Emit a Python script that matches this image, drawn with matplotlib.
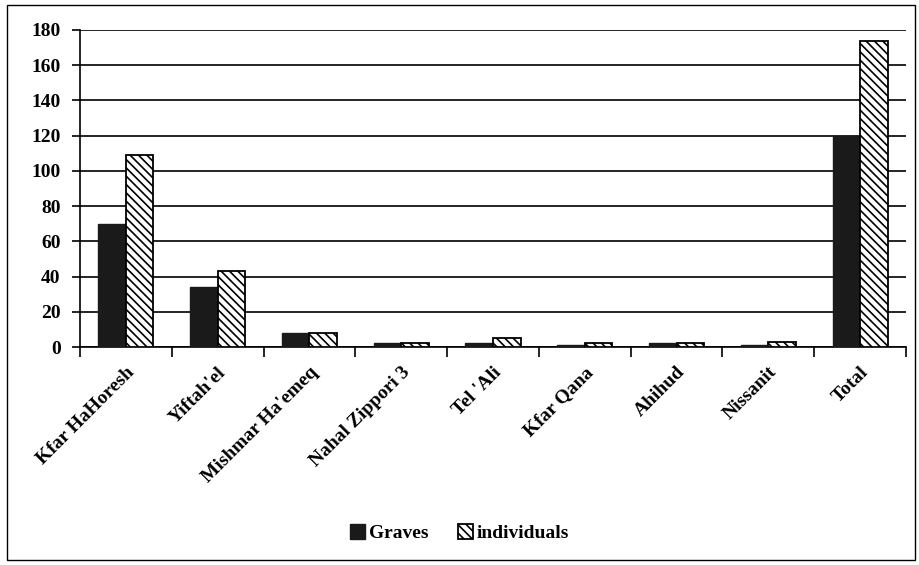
import matplotlib.pyplot as plt
import numpy as np
from matplotlib.patches import Rectangle

plt.rcParams['font.family'] = ['Liberation Serif', 'DejaVu Serif']
plt.rcParams['hatch.linewidth'] = 1.2

sites = ['Kfar HaHoresh', "Yiftah'el", "Mishmar Ha'emeq", 'Nahal Zippori 3',
         "Tel 'Ali", 'Kfar Qana', 'Ahihud', 'Nissanit', 'Total']
graves = [70, 34, 8, 2, 2, 1, 2, 1, 120]
individuals = [109, 43, 8, 2, 5, 2, 2, 3, 174]

fig = plt.figure(figsize=(9.19, 5.65), dpi=100)
ax = fig.add_axes([80 / 919, 1 - 347 / 565, 826 / 919, 317 / 565])

x = np.arange(len(sites))
w = 0.30
ax.bar(x - w / 2, graves, w, color='#1a1a1a', edgecolor='#1a1a1a', lw=1, label='Graves', zorder=3)
ax.bar(x + w / 2, individuals, w, color='white', edgecolor='black', lw=1.3,
       hatch='\\\\\\\\', label='individuals', zorder=3)

ax.set_xlim(-0.5, len(sites) - 0.5)
ax.set_ylim(0, 180)
ax.set_yticks(range(0, 181, 20))
ax.yaxis.grid(True, color='black', lw=1.2)
ax.set_axisbelow(True)
for s in ['top', 'right']:
    ax.spines[s].set_visible(False)
ax.spines['left'].set_linewidth(1.2)
ax.spines['bottom'].set_linewidth(1.2)

ax.set_xticks(x)
ax.set_xticklabels(sites, rotation=45, ha='right', rotation_mode='anchor', fontsize=14)
ax.tick_params(axis='x', length=0, pad=12)
ax.set_xticks(np.arange(-0.5, len(sites)), minor=True)
ax.tick_params(axis='x', which='minor', length=7, width=1.2, direction='out')
ax.tick_params(axis='y', length=6, width=1.2, labelsize=14, pad=8)
for t in ax.get_yticklabels() + ax.get_xticklabels():
    t.set_fontweight('bold')

leg = fig.legend(loc='center', bbox_to_anchor=(0.5, 1 - 533 / 565), ncol=2, frameon=False,
                 handlelength=0.8, handleheight=0.8, handletextpad=0.2,
                 columnspacing=1.5, prop={'weight': 'bold', 'size': 14})

fig.patches.append(Rectangle((7 / 919, 5 / 565), 908 / 919, 555 / 565, transform=fig.transFigure,
                             fill=False, edgecolor='black', lw=1))

fig.savefig('out.png', dpi=100)
